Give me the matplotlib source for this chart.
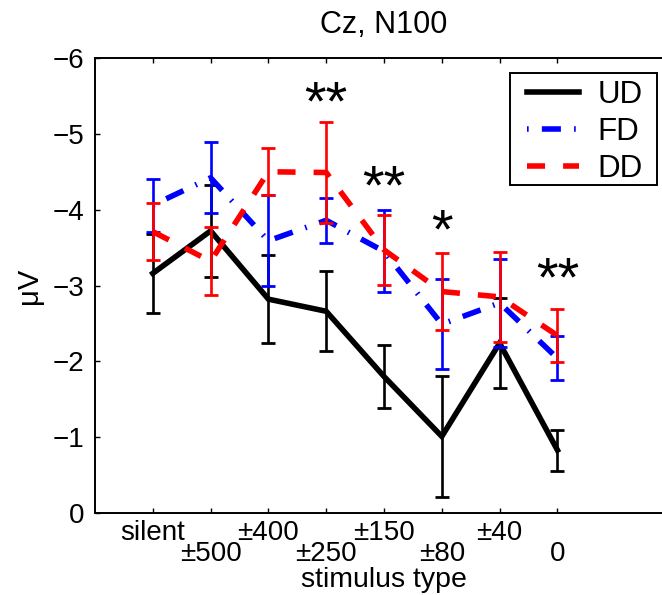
import matplotlib

matplotlib.use("Agg")
import matplotlib.pyplot as plt
from matplotlib.patches import Rectangle

plt.rcParams["font.family"] = ["Liberation Sans", "DejaVu Sans"]
plt.rcParams["lines.scale_dashes"] = False

categories = ["silent", "±500", "±400", "±250", "±150", "±80", "±40", "0"]
positions = list(range(1, len(categories) + 1))

ud_mean = [-3.16, -3.72, -2.82, -2.66, -1.80, -1.01, -2.24, -0.83]
ud_err = [0.52, 0.61, 0.58, 0.53, 0.42, 0.80, 0.59, 0.27]
fd_mean = [-4.06, -4.42, -3.59, -3.86, -3.45, -2.49, -2.77, -2.04]
fd_err = [0.35, 0.47, 0.60, 0.30, 0.54, 0.59, 0.58, 0.29]
dd_mean = [-3.71, -3.32, -4.50, -4.49, -3.47, -2.92, -2.85, -2.34]
dd_err = [0.38, 0.45, 0.31, 0.67, 0.46, 0.51, 0.59, 0.35]

star_x = [4, 5, 6, 8]
star_y = [-5.45, -4.35, -3.76, -3.14]
star_labels = ["**", "**", "*", "**"]

W, H = 662, 595
fig = plt.figure(figsize=(W / 100, H / 100), dpi=100)
ax = fig.add_axes([95 / W, 82 / H, 578 / W, 455 / H])

series = [
    ("UD", ud_mean, ud_err, "black", "-"),
    ("FD", fd_mean, fd_err, "blue", (0, (1.2, 9.5, 13.7, 9.5))),
    ("DD", dd_mean, dd_err, "red", (0, (13, 13))),
]
handles = []
for label, mean, err, color, ls in series:
    ax.errorbar(positions, mean, yerr=err, fmt="none", ecolor=color,
                elinewidth=1.9, capsize=5.3, capthick=2)
    (ln,) = ax.plot(positions, mean, color=color, lw=4, linestyle=ls,
                    label=label, solid_joinstyle="miter")
    handles.append(ln)

# significance marks, nudged so the glyph centre sits on the read position
for x, y, s in zip(star_x, star_y, star_labels):
    ax.text(x, y + 0.08, s, ha="center", va="center", fontsize=40)

ax.set_xlim(0, 10)
ax.set_ylim(0, -6)
ax.set_yticks(range(-6, 1))
ax.set_xticks(positions[0::2])
ax.set_xticklabels(categories[0::2])
ax.set_xticks(positions[1::2], minor=True)
ax.set_xticklabels(categories[1::2], minor=True)

ax.tick_params(axis="both", which="both", direction="in", length=3.4, width=1,
               top=True, right=False, labelsize=20)
ax.tick_params(axis="x", which="major", pad=5)
ax.tick_params(axis="x", which="minor", pad=20)
ax.tick_params(axis="y", pad=8)
for spine in ax.spines.values():
    spine.set_linewidth(1.4)
ax.spines["right"].set_visible(False)

ax.set_title("Cz, N100", fontsize=22, pad=18)
ax.set_xlabel("stimulus type", fontsize=20.5, va="baseline")
ax.xaxis.set_label_coords(0.5, (513 - 587) / 455)
ax.set_ylabel("μV", fontsize=21)
ax.yaxis.set_label_coords(-0.09, 0.5)

# legend box drawn separately so its padding can match the reference
leg = ax.legend(handles=handles, loc="upper left",
                bbox_to_anchor=(527 / W, 1 - 80 / H),
                bbox_transform=fig.transFigure, fontsize=22.5,
                handlelength=1.66, handletextpad=0.6, borderpad=0,
                labelspacing=0.23, borderaxespad=0, frameon=False)
fig.add_artist(Rectangle((510 / W, 1 - 185 / H), 147 / W, 112 / H,
                         transform=fig.transFigure, fill=False,
                         edgecolor="black", lw=1.4, zorder=4))

fig.savefig("out.png", dpi=100)
